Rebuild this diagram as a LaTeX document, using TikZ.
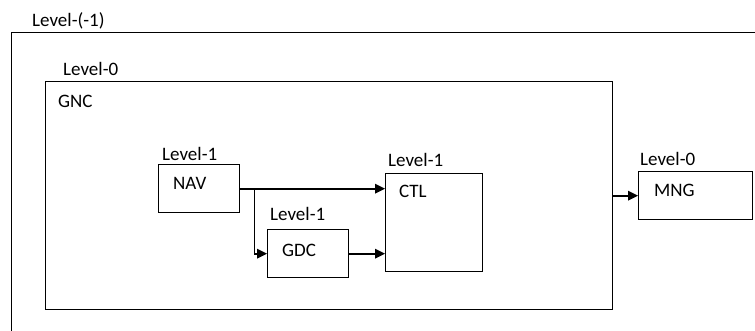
\documentclass[tikz,border=0pt]{standalone}
\usepackage{fontspec}
\setmainfont{Carlito}
\usetikzlibrary{arrows.meta,calc}
\begin{document}
\begin{tikzpicture}[x=1pt,y=-1pt,
  every node/.style={font=\fontsize{19}{22}\selectfont},
  box/.style={draw, line width=1.4pt, inner sep=0pt, anchor=north west, rectangle},
  tag/.style={anchor=base west, inner sep=0pt},
  flow/.style={line width=1.7pt, -{Triangle[length=10pt,width=9.5pt]}}]
  \useasboundingbox (0,0) rectangle (755,331);
  \clip (0,0) rectangle (755,331);

  % outer level (-1) frame, running past the page edges
  \node[box, minimum width=800pt, minimum height=360pt] (sys) at (11,32) {};
  \node[tag] (sysL) at (32,27) {Level-(-1)};

  % GNC block
  \node[box, minimum width=567pt, minimum height=228pt] (gnc) at (45,81) {};
  \node[tag] (gncL) at (63,76) {Level-0};
  \node[tag] (gncT) at (58,108) {GNC};

  % NAV
  \node[box, minimum width=81pt, minimum height=48pt] (nav) at (158,164) {};
  \node[tag] (navL) at (162,161) {Level-1};
  \node[tag] (navT) at (173,190) {NAV};

  % GDC
  \node[box, minimum width=81pt, minimum height=48pt] (gdc) at (267,229) {};
  \node[tag] (gdcL) at (270,221) {Level-1};
  \node[tag] (gdcT) at (282,256) {GDC};

  % CTL
  \node[box, minimum width=97pt, minimum height=98pt] (ctl) at (385,173) {};
  \node[tag] (ctlL) at (388,167) {Level-1};
  \node[tag] (ctlT) at (399,198) {CTL};

  % MNG
  \node[box, minimum width=114pt, minimum height=48pt] (mng) at (638,171) {};
  \node[tag] (mngL) at (640,166) {Level-0};
  \node[tag] (mngT) at (654,197) {MNG};

  % connectors
  \coordinate (split) at ($(nav.east)+(14,0)$);
  \draw[flow] (nav.east) -- (ctl.west |- nav.east);
  \draw[flow] (split) |- (gdc.west);
  \draw[flow] (gdc.east) -- (ctl.west |- gdc.east);
  \draw[flow] (gnc.east |- mng.west) -- (mng.west);
\end{tikzpicture}
\end{document}
